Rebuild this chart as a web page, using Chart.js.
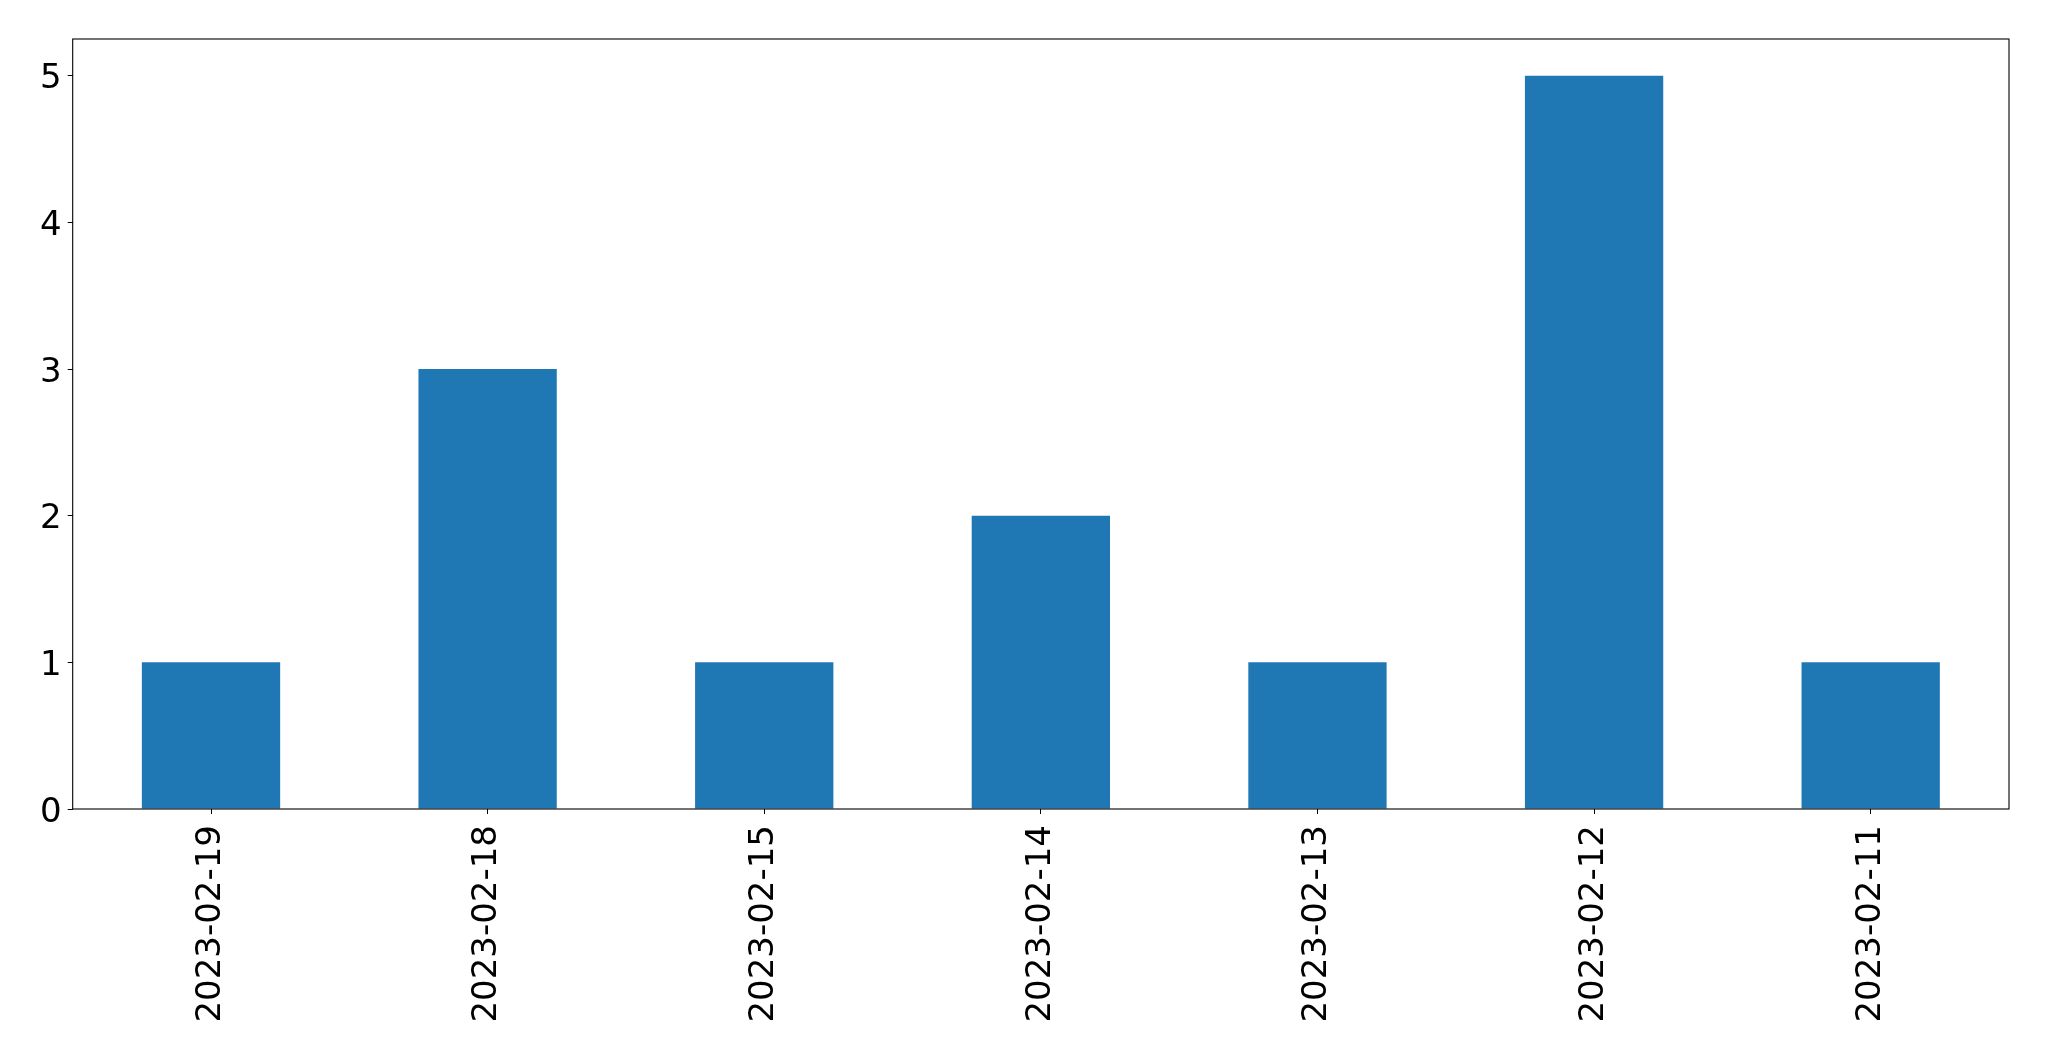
<!DOCTYPE html>
<html><head><meta charset="utf-8">
<script src="https://cdn.jsdelivr.net/npm/chart.js@4/dist/chart.umd.min.js"></script>
<style>html,body{margin:0;padding:0;background:#fff}#wrap{width:2049px;height:1061px}</style>
</head><body><div id="wrap"><canvas id="c" width="2049" height="1061"></canvas></div>
<script>
const categories = ["2023-02-19","2023-02-18","2023-02-15","2023-02-14","2023-02-13","2023-02-12","2023-02-11"];
const counts = [1,3,1,2,1,5,1];
const yTicks = [0,1,2,3,4,5];

const frame = {
  id:'frame',
  afterDraw(chart){
    const a = chart.chartArea, ctx = chart.ctx;
    ctx.save(); ctx.strokeStyle='#000'; ctx.lineWidth=1.1;
    ctx.strokeRect(a.left, a.top, a.right-a.left, a.bottom-a.top);
    ctx.restore();
  }
};

new Chart(document.getElementById('c'), {
  type:'bar',
  data:{labels:categories, datasets:[{data:counts, backgroundColor:'#1f77b4', barPercentage:0.5, categoryPercentage:1.0}]},
  options:{
    responsive:false, animation:false, devicePixelRatio:1,
    layout:{padding:{top:39, right:40, left:0, bottom:0}},
    plugins:{legend:{display:false}, tooltip:{enabled:false}},
    scales:{
      x:{
        grid:{display:true, drawOnChartArea:false, drawTicks:true, tickLength:5, color:'#000', offset:false},
        border:{display:false},
        ticks:{color:'#000', font:{family:'DejaVu Sans', size:34}, minRotation:90, maxRotation:90, padding:11, autoSkip:false},
        afterFit(s){ s.height = 252; }
      },
      y:{
        min:0, max:5.25,
        grid:{display:true, drawOnChartArea:false, drawTicks:true, tickLength:5, color:'#000'},
        border:{display:false},
        ticks:{color:'#000', font:{family:'DejaVu Sans', size:34}, stepSize:1, includeBounds:false, padding:6, labelOffset:4},
        afterBuildTicks(s){ s.ticks = yTicks.map(v=>({value:v})); },
        afterFit(s){ s.width = 72.7; }
      }
    }
  },
  plugins:[frame]
});
</script></body></html>
